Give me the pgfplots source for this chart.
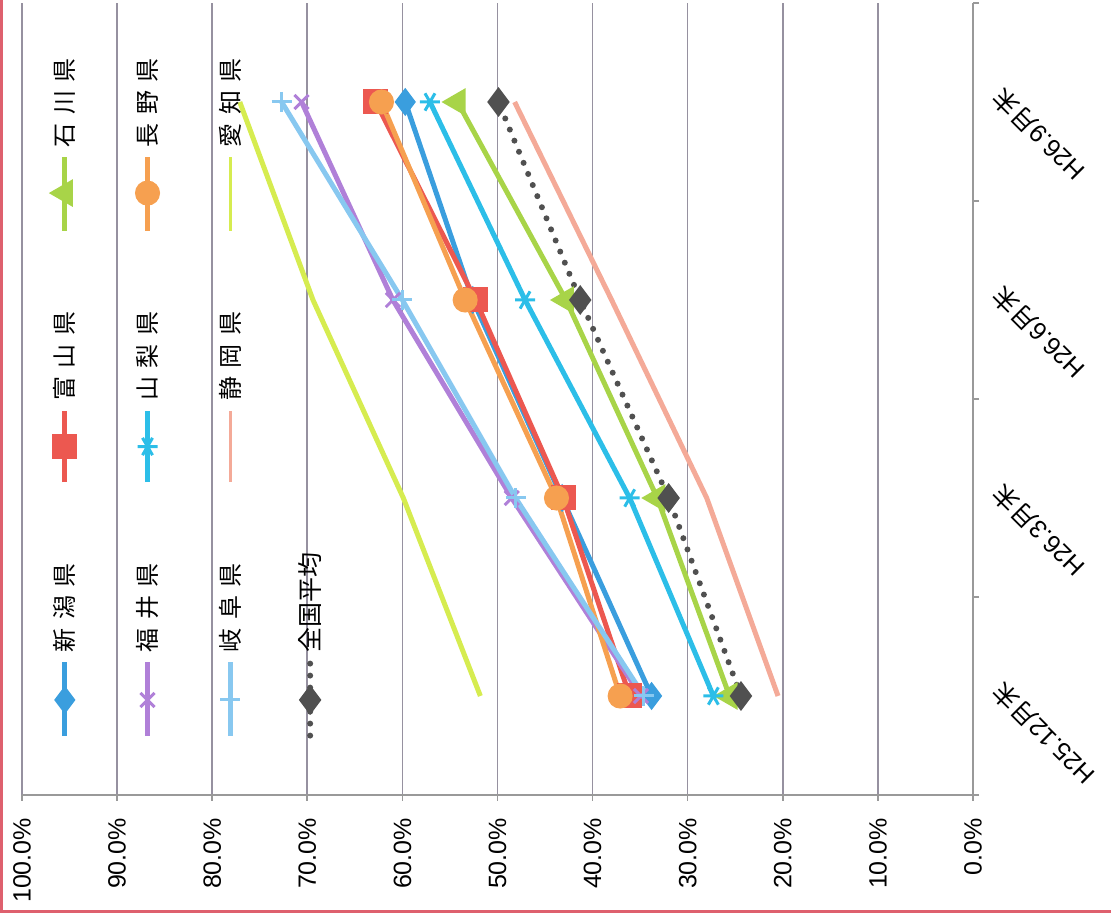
\documentclass[border=0pt]{standalone}
\usepackage{pgfplots}
\pgfplotsset{compat=1.18}
\usepackage{fontspec}
\setmainfont{Liberation Sans}
\newfontfamily\cjk{Noto Sans CJK JP}
\usetikzlibrary{calc}
\definecolor{cNiigata}{RGB}{58,158,222}
\definecolor{cToyama}{RGB}{236,88,80}
\definecolor{cIshikawa}{RGB}{168,212,72}
\definecolor{cFukui}{RGB}{176,128,216}
\definecolor{cYamanashi}{RGB}{44,190,232}
\definecolor{cNagano}{RGB}{246,160,80}
\definecolor{cGifu}{RGB}{136,200,240}
\definecolor{cShizuoka}{RGB}{244,170,152}
\definecolor{cAichi}{RGB}{214,236,80}
\definecolor{cAvg}{RGB}{80,80,80}
\definecolor{cGrid}{RGB}{150,145,160}
\definecolor{cFrame}{RGB}{222,96,110}
\newcommand\tf{\fontsize{12.5}{15}\selectfont}
\newcommand\lf{\cjk\fontsize{12}{14}\selectfont}
\newcommand\gap{\hspace{0.35em}}
\pgfplotsset{
  sNiigata/.style={cNiigata, mark=diamond*, mark size=5pt},
  sToyama/.style={cToyama, mark=square*, mark size=5pt},
  sIshikawa/.style={cIshikawa, mark=triangle*, mark size=5.5pt, mark options={rotate=90}},
  sFukui/.style={cFukui, mark=x, mark size=5pt, mark options={line width=1.5pt}},
  sYamanashi/.style={cYamanashi, mark=asterisk, mark size=5pt, mark options={line width=1.5pt, rotate=90}},
  sNagano/.style={cNagano, mark=*, mark size=5pt},
  sGifu/.style={cGifu, mark=+, mark size=5pt, mark options={line width=1.5pt}},
  sShizuoka/.style={cShizuoka, mark=none},
  sAichi/.style={cAichi, mark=none},
  sAvg/.style={cAvg, line width=3pt, line cap=round, dash pattern=on 0pt off 6pt, mark=diamond*, mark size=5pt, mark options={solid}},
}
\begin{document}
\begin{tikzpicture}
\begin{axis}[
  scale only axis, width=475.5pt, height=396pt,
  xmin=0, xmax=100, x dir=reverse,
  ymin=-0.5, ymax=3.5,
  axis x line*=bottom, axis y line*=right,
  axis line style={draw=gray!80, line width=0.8pt},
  tick style={draw=gray!80, line width=0.8pt},
  tick align=outside,
  major tick length=3pt, minor tick length=3pt,
  xtick={0,10,...,100},
  xticklabels={0.0\%,10.0\%,20.0\%,30.0\%,40.0\%,50.0\%,60.0\%,70.0\%,80.0\%,90.0\%,100.0\%},
  xticklabel style={rotate=90, anchor=east, font=\tf},
  xticklabel shift=5pt,
  xmajorgrids, grid style={cGrid, line width=0.8pt},
  ytick={0,1,2,3},
  yticklabels={{H25.12{\cjk 月末}},{H26.3{\cjk 月末}},{H26.6{\cjk 月末}},{H26.9{\cjk 月末}}},
  yticklabel style={rotate=135, anchor=north east, font=\tf},
  major y tick style={draw=none},
  minor ytick={-0.5,0.5,1.5,2.5,3.5},
  every axis plot/.append style={line width=2.5pt},
]
% data series
\addplot[sNiigata] coordinates {(33.8,0) (43.2,1) (52.6,2) (59.7,3)};
\addplot[sToyama] coordinates {(36.1,0) (43.1,1) (52.3,2) (62.8,3)};
\addplot[sIshikawa] coordinates {(25.6,0) (33.2,1) (42.8,2) (54.2,3)};
\addplot[sFukui] coordinates {(34.9,0) (48.5,1) (61.0,2) (70.6,3)};
\addplot[sYamanashi] coordinates {(27.3,0) (36.1,1) (47.1,2) (57.1,3)};
\addplot[sNagano] coordinates {(37.1,0) (43.8,1) (53.4,2) (62.2,3)};
\addplot[sGifu] coordinates {(34.6,0) (48.1,1) (60.0,2) (72.7,3)};
\addplot[sShizuoka] coordinates {(20.5,0) (28.0,1) (38.0,2) (48.2,3)};
\addplot[sAichi] coordinates {(51.8,0) (59.9,1) (69.4,2) (77.1,3)};
\addplot[sAvg] coordinates {(24.4,0) (32.0,1) (41.3,2) (49.9,3)};
% legend (rotated with the chart): sample lines, marks and labels
\addplot[sNiigata, mark=none, forget plot] coordinates {(95.5,-0.2) (95.5,0.17)};
\addplot[sNiigata, only marks, forget plot] coordinates {(95.5,-0.02)};
\addplot[sToyama, mark=none, forget plot] coordinates {(95.5,1.08) (95.5,1.44)};
\addplot[sToyama, only marks, forget plot] coordinates {(95.5,1.26)};
\addplot[sIshikawa, mark=none, forget plot] coordinates {(95.5,2.35) (95.5,2.72)};
\addplot[sIshikawa, only marks, forget plot] coordinates {(95.5,2.54)};
\addplot[sFukui, mark=none, forget plot] coordinates {(86.8,-0.2) (86.8,0.17)};
\addplot[sFukui, only marks, forget plot] coordinates {(86.8,-0.02)};
\addplot[sYamanashi, mark=none, forget plot] coordinates {(86.8,1.08) (86.8,1.44)};
\addplot[sYamanashi, only marks, forget plot] coordinates {(86.8,1.26)};
\addplot[sNagano, mark=none, forget plot] coordinates {(86.8,2.35) (86.8,2.72)};
\addplot[sNagano, only marks, forget plot] coordinates {(86.8,2.54)};
\addplot[sGifu, mark=none, forget plot] coordinates {(78.1,-0.2) (78.1,0.17)};
\addplot[sGifu, only marks, forget plot] coordinates {(78.1,-0.02)};
\addplot[sShizuoka, line width=1.5pt, forget plot] coordinates {(78.1,1.08) (78.1,1.44)};
\addplot[sAichi, line width=1.5pt, forget plot] coordinates {(78.1,2.35) (78.1,2.72)};
\addplot[sAvg, mark=none, forget plot] coordinates {(69.7,-0.2) (69.7,0.17)};
\addplot[sAvg, only marks, forget plot] coordinates {(69.7,-0.02)};
\node[rotate=90, anchor=west, font=\lf, inner sep=0pt] at (axis cs:95.5,0.22) {新\gap 潟\gap 県};
\node[rotate=90, anchor=west, font=\lf, inner sep=0pt] at (axis cs:95.5,1.49) {富\gap 山\gap 県};
\node[rotate=90, anchor=west, font=\lf, inner sep=0pt] at (axis cs:95.5,2.77) {石\gap 川\gap 県};
\node[rotate=90, anchor=west, font=\lf, inner sep=0pt] at (axis cs:86.8,0.22) {福\gap 井\gap 県};
\node[rotate=90, anchor=west, font=\lf, inner sep=0pt] at (axis cs:86.8,1.49) {山\gap 梨\gap 県};
\node[rotate=90, anchor=west, font=\lf, inner sep=0pt] at (axis cs:86.8,2.77) {長\gap 野\gap 県};
\node[rotate=90, anchor=west, font=\lf, inner sep=0pt] at (axis cs:78.1,0.22) {岐\gap 阜\gap 県};
\node[rotate=90, anchor=west, font=\lf, inner sep=0pt] at (axis cs:78.1,1.49) {静\gap 岡\gap 県};
\node[rotate=90, anchor=west, font=\lf, inner sep=0pt] at (axis cs:78.1,2.77) {愛\gap 知\gap 県};
\node[rotate=90, anchor=west, font=\cjk\fontsize{12.5}{14}\selectfont, inner sep=0pt] at (axis cs:69.7,0.22) {全国平均};
\coordinate (BL) at (axis description cs:0,0);
\coordinate (TR) at (axis description cs:1,1);
\end{axis}
\pgfresetboundingbox
\coordinate (A) at ($(BL)+(-11pt,-59pt)$);
\coordinate (B) at ($(TR)+(69pt,1.5pt)$);
\useasboundingbox (A) rectangle (B);
\draw[cFrame, line width=3pt] (A |- B) -- (A) -- (B |- A);
\end{tikzpicture}
\end{document}
